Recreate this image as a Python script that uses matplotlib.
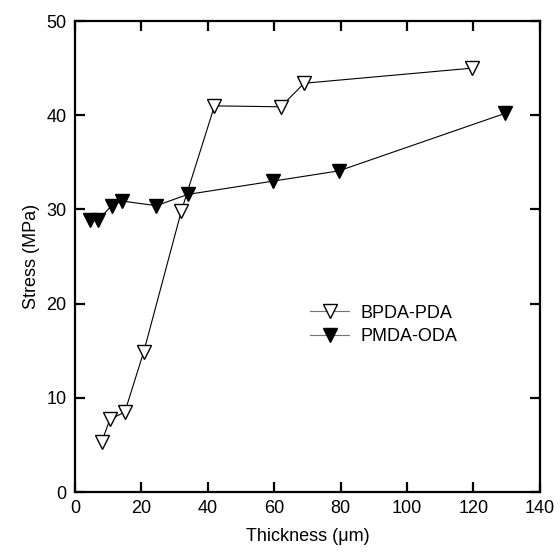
import matplotlib
matplotlib.use('Agg')
import matplotlib.pyplot as plt

plt.rcParams['font.family'] = ['Liberation Sans', 'DejaVu Sans']

# BPDA-PDA (open triangles)
bpda_x = [8, 10.5, 15, 20.7, 32, 42, 62, 69, 119.5]
bpda_y = [5.3, 7.7, 8.5, 14.9, 29.8, 41.0, 40.9, 43.4, 45.0]

# PMDA-ODA (filled triangles)
pmda_x = [4.5, 7, 11, 14, 24.5, 34, 59.5, 79.5, 129.5]
pmda_y = [28.9, 28.9, 30.4, 30.9, 30.4, 31.6, 33.0, 34.1, 40.2]

xticks = [0, 20, 40, 60, 80, 100, 120, 140]
yticks = [0, 10, 20, 30, 40, 50]

fig = plt.figure(figsize=(5.6, 5.55), dpi=100)
ax = fig.add_axes([0.134, 0.1135, 0.83, 0.8485])

ax.plot(bpda_x, bpda_y, color='black', lw=0.8, marker='v', ms=9.5,
        mfc='white', mec='black', mew=1.0, label='BPDA-PDA')
ax.plot(pmda_x, pmda_y, color='black', lw=0.8, marker='v', ms=9.5,
        mfc='black', mec='black', label='PMDA-ODA')

ax.set_xlim(0, 140)
ax.set_ylim(0, 50)
ax.set_xticks(xticks)
ax.set_yticks(yticks)
ax.tick_params(direction='in', length=7, width=1.6, labelsize=13,
               top=True, right=True, pad=6)
for s in ax.spines.values():
    s.set_linewidth(1.6)

ax.set_xlabel('Thickness (\u03bcm)', fontsize=13, labelpad=8)
ax.set_ylabel('Stress (MPa)', fontsize=13, labelpad=5)

leg = ax.legend(loc='center left', bbox_to_anchor=(0.47, 0.355), frameon=False,
                fontsize=13, handlelength=2.2, labelspacing=0.35, handletextpad=0.6)
for h in leg.get_lines():
    h.set_color('0.45')
    h.set_markeredgecolor('black')

fig.savefig('out.png', dpi=100)
